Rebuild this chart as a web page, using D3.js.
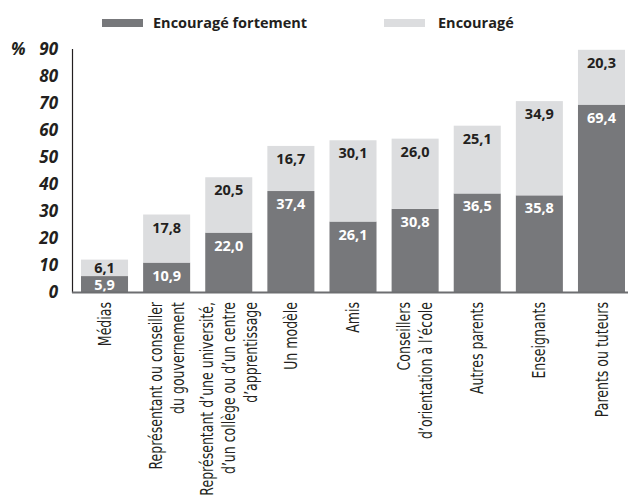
<!DOCTYPE html>
<html>
<head>
<meta charset="utf-8">
<script src="https://cdn.jsdelivr.net/npm/d3@7"></script>
<style>
  html, body { margin: 0; padding: 0; background: #fff; }
  svg { display: block; }
</style>
</head>
<body>
<svg id="chart" width="628" height="499"></svg>
<script>
// Categories (each entry is the list of label lines)
const categories = [
  ["Médias"],
  ["Représentant ou conseiller", "du gouvernement"],
  ["Représentant d’une université,", "d’un collège ou d’un centre", "d’apprentissage"],
  ["Un modèle"],
  ["Amis"],
  ["Conseillers", "d’orientation à l’école"],
  ["Autres parents"],
  ["Enseignants"],
  ["Parents ou tuteurs"]
];
const fortement = [5.9, 10.9, 22.0, 37.4, 26.1, 30.8, 36.5, 35.8, 69.4];
const encourage = [6.1, 17.8, 20.5, 16.7, 30.1, 26.0, 25.1, 34.9, 20.3];
const yTicks = [0, 10, 20, 30, 40, 50, 60, 70, 80, 90];
const seriesNames = ["Encouragé fortement", "Encouragé"];

const DARK = "#77787b", LIGHT = "#dcdddf", INK = "#231f20";
const fmt = v => v.toFixed(1).replace(".", ",");

const svg = d3.select("#chart");
const keys = categories.map(c => c.join(" "));

const x = d3.scaleBand().domain(keys).range([81, 625]).paddingInner(0.243).paddingOuter(0);
const y = d3.scaleLinear().domain([0, 90]).range([292, 49]);

const rows = keys.map((k, i) => ({ key: k, lines: categories[i], f: fortement[i], e: encourage[i] }));

// Stacked bars
const bars = svg.append("g");
rows.forEach(r => {
  bars.append("rect")
    .attr("x", x(r.key)).attr("width", x.bandwidth())
    .attr("y", y(r.f)).attr("height", y(0) - y(r.f))
    .attr("fill", DARK);
  bars.append("rect")
    .attr("x", x(r.key)).attr("width", x.bandwidth())
    .attr("y", y(r.f + r.e)).attr("height", y(r.f) - y(r.f + r.e))
    .attr("fill", LIGHT);
});

// Value labels near the top of each segment
const labelFont = "'Open Sans', sans-serif";
function segLabel(v, top, bottom, cx, color, small) {
  const off = Math.min(18, (bottom - top) - small);
  svg.append("text")
    .attr("x", cx).attr("y", top + off)
    .attr("text-anchor", "middle")
    .attr("font-family", labelFont).attr("font-weight", 700)
    .attr("font-size", 14.5).attr("fill", color)
    .text(fmt(v));
}
rows.forEach(r => {
  const cx = x(r.key) + x.bandwidth() / 2;
  segLabel(r.f, y(r.f), y(0), cx, "#ffffff", 2);
  segLabel(r.e, y(r.f + r.e), y(r.f), cx, INK, 3);
});

// Axes
svg.append("line")
  .attr("x1", 72.5).attr("x2", 72.5).attr("y1", y(90)).attr("y2", y(0) + 1)
  .attr("stroke", INK).attr("stroke-width", 1.2);
svg.append("line")
  .attr("x1", 72).attr("x2", 628).attr("y1", y(0) + 0.5).attr("y2", y(0) + 0.5)
  .attr("stroke", "#6d6e71").attr("stroke-width", 2);

const yAxis = svg.append("g");
yAxis.selectAll("text").data(yTicks).join("text")
  .attr("x", 58).attr("y", d => y(d))
  .attr("dy", "0.36em")
  .attr("text-anchor", "end")
  .attr("font-family", labelFont).attr("font-weight", 700).attr("font-style", "italic")
  .attr("font-size", 17).attr("fill", INK)
  .text(d => d);
svg.append("text")
  .attr("x", 11).attr("y", y(90)).attr("dy", "0.36em")
  .attr("font-family", labelFont).attr("font-weight", 700).attr("font-style", "italic")
  .attr("font-size", 17).attr("fill", INK)
  .text("%");

// Category labels, rotated and condensed along the reading direction
const catFont = "'DejaVu Sans Condensed', 'Liberation Sans Narrow', sans-serif";
rows.forEach(r => {
  const cx = x(r.key) + x.bandwidth() / 2;
  const g = svg.append("g").attr("transform", `translate(${cx},302) rotate(-90) scale(0.82,1)`);
  const n = r.lines.length;
  const t = g.append("text")
    .attr("text-anchor", "end")
    .attr("font-family", catFont).attr("font-size", 17).attr("fill", INK);
  r.lines.forEach((ln, i) => {
    t.append("tspan").attr("x", 0).attr("y", (i - (n - 1) / 2) * 22).attr("dy", "0.36em").text(ln);
  });
});

// Legend
const legend = [
  { name: seriesNames[0], color: DARK, sx: 102, tx: 153 },
  { name: seriesNames[1], color: LIGHT, sx: 384, tx: 438 }
];
legend.forEach(l => {
  svg.append("rect").attr("x", l.sx).attr("y", 19).attr("width", 41).attr("height", 8).attr("fill", l.color);
  svg.append("text").attr("x", l.tx).attr("y", 28)
    .attr("font-family", labelFont).attr("font-weight", 700).attr("font-size", 14.5)
    .attr("fill", INK).text(l.name);
});
</script>
</body>
</html>
